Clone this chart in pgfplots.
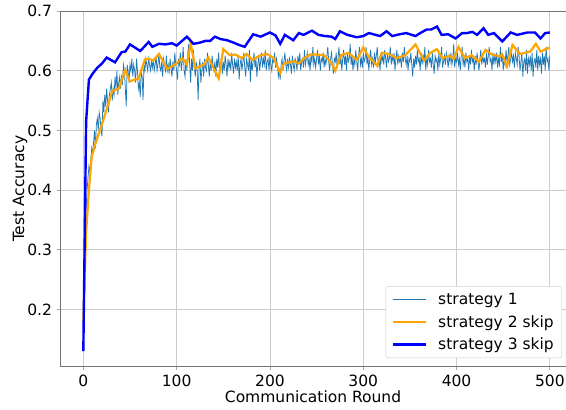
\documentclass[border=0pt]{standalone}
\usepackage{fontspec}
\setmainfont{DejaVu Sans}
\usepackage{pgfplots}
\pgfplotsset{compat=1.18}
\definecolor{mplblue}{HTML}{1F77B4}
\definecolor{mplorange}{HTML}{FFA500}
\definecolor{pureblue}{HTML}{0000FF}
\newcommand{\fs}{\fontsize{15.5}{18}\selectfont}
\begin{document}
\begin{tikzpicture}
\begin{axis}[
  name=ax,
  scale only axis,
  width=506pt, height=355.7pt,
  xmin=-25, xmax=517.3, ymin=0.104, ymax=0.7,
  axis x line*=box, axis y line*=left,
  xtick={0,100,200,300,400,500},
  ytick={0.2,0.3,0.4,0.5,0.6,0.7},
  yticklabel style={/pgf/number format/fixed, /pgf/number format/precision=1, /pgf/number format/fixed zerofill},
  xtick pos=left, ytick pos=left,
  tick align=outside, major tick length=3.5pt,
  tick style={black!35, line width=0.8pt},
  axis line style={black!55, line width=0.8pt},
  grid=major,
  major grid style={black!20, line width=0.8pt},
  /pgf/number format/assume math mode=true,
  tick label style={font=\fs},
  xticklabel style={yshift=-1pt},
  yticklabel style={xshift=-1pt},
  every axis x label/.style={at={(axis description cs:0.5,0)}, yshift=-30.5pt, anchor=center, font=\fs},
  every axis y label/.style={at={(axis description cs:0,0.5)}, xshift=-40pt, rotate=90, anchor=center, font=\fs},
  xlabel={Communication Round},
  ylabel={Test Accuracy},
  legend style={at={(1,0)}, xshift=-4pt, yshift=8.7pt, anchor=south east, draw=black!20, rounded corners=2pt, font=\fs, row sep=5.5pt, inner xsep=6pt, inner ysep=4.5pt, /tikz/every odd column/.append style={column sep=9pt}},
  legend cell align=left,
  legend image code/.code={\draw[#1] (0pt,0pt) -- (33pt,0pt);},
]
\addplot[mplblue, line width=0.75pt] coordinates {
(0,0.20) (1,0.28) (2,0.33) (3,0.37) (4,0.40) (5,0.42) (6,0.44) (7,0.43) (8,0.45) (9,0.47)
(10,0.46) (11,0.48) (12,0.50) (13,0.47) (14,0.51) (15,0.52) (16,0.50) (17,0.53) (18,0.52) (19,0.50)
(20,0.49) (21,0.55) (22,0.53) (23,0.56) (24,0.54) (25,0.57) (26,0.55) (27,0.53) (28,0.56) (29,0.57)
(30,0.58) (31,0.55) (32,0.57) (33,0.56) (34,0.59) (35,0.57) (36,0.60) (37,0.56) (38,0.58) (39,0.59)
(40,0.57) (41,0.59) (42,0.58) (43,0.61) (44,0.60) (45,0.57) (46,0.54) (47,0.61) (48,0.60) (49,0.58)
(50,0.61) (51,0.60) (52,0.62) (53,0.59) (54,0.61) (55,0.60) (56,0.58) (57,0.62) (58,0.60) (59,0.57)
(60,0.58) (61,0.556) (62,0.60) (63,0.59) (64,0.551) (65,0.61) (66,0.60) (67,0.62) (68,0.61) (69,0.60)
(70,0.62) (71,0.61) (72,0.60) (73,0.615) (74,0.605) (75,0.62) (76,0.60) (77,0.61) (78,0.625) (79,0.60)
(80,0.61) (81,0.63) (82,0.605) (83,0.60) (84,0.615) (85,0.59) (86,0.62) (87,0.61) (88,0.60) (89,0.625)
(90,0.60) (91,0.61) (92,0.595) (93,0.62) (94,0.605) (95,0.59) (96,0.615) (97,0.60) (98,0.63) (99,0.61)
(100,0.60) (101,0.585) (102,0.62) (103,0.61) (104,0.63) (105,0.60) (106,0.615) (107,0.64) (108,0.60) (109,0.59)
(110,0.62) (111,0.60) (112,0.63) (113,0.645) (114,0.61) (115,0.58) (116,0.62) (117,0.60) (118,0.635) (119,0.605)
(120,0.59) (121,0.615) (122,0.60) (123,0.551) (124,0.605) (125,0.62) (126,0.58) (127,0.60) (128,0.615) (129,0.59)
(130,0.62) (131,0.605) (132,0.60) (133,0.63) (134,0.61) (135,0.59) (136,0.615) (137,0.60) (138,0.625) (139,0.61)
(140,0.60) (141,0.615) (142,0.59) (143,0.62) (144,0.605) (145,0.63) (146,0.60) (147,0.61) (148,0.62) (149,0.595)
(150,0.615) (151,0.60) (152,0.625) (153,0.61) (154,0.59) (155,0.62) (156,0.605) (157,0.615) (158,0.60) (159,0.63)
(160,0.61) (161,0.595) (162,0.62) (163,0.605) (164,0.615) (165,0.60) (166,0.625) (167,0.585) (168,0.61) (169,0.62)
(170,0.60) (171,0.615) (172,0.63) (173,0.605) (174,0.59) (175,0.62) (176,0.61) (177,0.60) (178,0.635) (179,0.581)
(180,0.62) (181,0.60) (182,0.615) (183,0.63) (184,0.605) (185,0.62) (186,0.59) (187,0.61) (188,0.625) (189,0.60)
(190,0.615) (191,0.63) (192,0.605) (193,0.62) (194,0.61) (195,0.635) (196,0.60) (197,0.615) (198,0.62) (199,0.60)
(200,0.625) (201,0.61) (202,0.60) (203,0.62) (204,0.615) (205,0.63) (206,0.605) (207,0.62) (208,0.61) (209,0.59)
(210,0.60) (211,0.585) (212,0.61) (213,0.62) (214,0.60) (215,0.615) (216,0.63) (217,0.61) (218,0.60) (219,0.62)
(220,0.605) (221,0.62) (222,0.61) (223,0.595) (224,0.625) (225,0.61) (226,0.60) (227,0.62) (228,0.615) (229,0.60)
(230,0.625) (231,0.61) (232,0.63) (233,0.60) (234,0.615) (235,0.62) (236,0.605) (237,0.635) (238,0.61) (239,0.62)
(240,0.63) (241,0.61) (242,0.62) (243,0.60) (244,0.625) (245,0.615) (246,0.64) (247,0.61) (248,0.62) (249,0.605)
(250,0.62) (251,0.635) (252,0.61) (253,0.625) (254,0.60) (255,0.62) (256,0.615) (257,0.63) (258,0.605) (259,0.62)
(260,0.61) (261,0.625) (262,0.64) (263,0.615) (264,0.60) (265,0.62) (266,0.63) (267,0.61) (268,0.595) (269,0.62)
(270,0.615) (271,0.63) (272,0.605) (273,0.62) (274,0.64) (275,0.61) (276,0.625) (277,0.60) (278,0.62) (279,0.635)
(280,0.61) (281,0.625) (282,0.60) (283,0.63) (284,0.615) (285,0.62) (286,0.645) (287,0.61) (288,0.625) (289,0.60)
(290,0.62) (291,0.61) (292,0.635) (293,0.615) (294,0.60) (295,0.625) (296,0.64) (297,0.61) (298,0.62) (299,0.605)
(300,0.63) (301,0.615) (302,0.62) (303,0.64) (304,0.61) (305,0.625) (306,0.60) (307,0.62) (308,0.635) (309,0.61)
(310,0.62) (311,0.605) (312,0.63) (313,0.615) (314,0.625) (315,0.64) (316,0.61) (317,0.62) (318,0.60) (319,0.63)
(320,0.615) (321,0.625) (322,0.61) (323,0.635) (324,0.62) (325,0.605) (326,0.63) (327,0.615) (328,0.62) (329,0.64)
(330,0.61) (331,0.625) (332,0.615) (333,0.63) (334,0.60) (335,0.62) (336,0.635) (337,0.61) (338,0.625) (339,0.615)
(340,0.62) (341,0.605) (342,0.63) (343,0.615) (344,0.64) (345,0.62) (346,0.61) (347,0.625) (348,0.60) (349,0.62)
(350,0.615) (351,0.63) (352,0.61) (353,0.59) (354,0.62) (355,0.605) (356,0.625) (357,0.61) (358,0.635) (359,0.615)
(360,0.62) (361,0.60) (362,0.63) (363,0.61) (364,0.625) (365,0.615) (366,0.64) (367,0.60) (368,0.62) (369,0.61)
(370,0.635) (371,0.615) (372,0.62) (373,0.605) (374,0.63) (375,0.61) (376,0.595) (377,0.625) (378,0.615) (379,0.62)
(380,0.60) (381,0.63) (382,0.61) (383,0.62) (384,0.64) (385,0.605) (386,0.615) (387,0.625) (388,0.61) (389,0.63)
(390,0.62) (391,0.605) (392,0.625) (393,0.615) (394,0.63) (395,0.61) (396,0.62) (397,0.645) (398,0.605) (399,0.62)
(400,0.615) (401,0.63) (402,0.61) (403,0.62) (404,0.60) (405,0.625) (406,0.64) (407,0.61) (408,0.62) (409,0.605)
(410,0.63) (411,0.615) (412,0.62) (413,0.60) (414,0.625) (415,0.61) (416,0.635) (417,0.615) (418,0.62) (419,0.60)
(420,0.625) (421,0.61) (422,0.63) (423,0.615) (424,0.60) (425,0.62) (426,0.635) (427,0.61) (428,0.625) (429,0.615)
(430,0.62) (431,0.605) (432,0.63) (433,0.61) (434,0.625) (435,0.64) (436,0.615) (437,0.62) (438,0.60) (439,0.63)
(440,0.61) (441,0.625) (442,0.615) (443,0.63) (444,0.605) (445,0.62) (446,0.61) (447,0.64) (448,0.615) (449,0.63)
(450,0.60) (451,0.62) (452,0.61) (453,0.635) (454,0.615) (455,0.625) (456,0.64) (457,0.61) (458,0.62) (459,0.63)
(460,0.615) (461,0.625) (462,0.605) (463,0.63) (464,0.62) (465,0.61) (466,0.64) (467,0.625) (468,0.60) (469,0.615)
(470,0.63) (471,0.59) (472,0.615) (473,0.62) (474,0.60) (475,0.635) (476,0.595) (477,0.62) (478,0.61) (479,0.625)
(480,0.60) (481,0.63) (482,0.59) (483,0.615) (484,0.62) (485,0.605) (486,0.635) (487,0.60) (488,0.625) (489,0.61)
(490,0.62) (491,0.595) (492,0.63) (493,0.61) (494,0.625) (495,0.60) (496,0.64) (497,0.615) (498,0.62) (499,0.60)
(500,0.625)
};
\addlegendentry{strategy 1}
\addplot[mplorange, line width=2.2pt] coordinates {
(0,0.18) (3,0.33) (6,0.40) (9,0.456) (13,0.478) (22,0.52) (31,0.566) (38,0.57) (45,0.601) (50,0.582)
(55,0.585) (59,0.586) (66,0.619) (70,0.62) (75,0.617) (81,0.628) (90,0.603) (99,0.611) (106,0.621) (111,0.610)
(115,0.646) (120,0.604) (129,0.610) (134,0.622) (145,0.587) (150,0.636) (157,0.626) (163,0.627) (170,0.621) (175,0.628)
(181,0.618) (190,0.626) (197,0.628) (204,0.621) (211,0.596) (215,0.612) (221,0.614) (226,0.616) (231,0.612) (236,0.620)
(243,0.627) (250,0.627) (258,0.626) (265,0.615) (270,0.600) (276,0.626) (284,0.630) (293,0.618) (300,0.639) (306,0.623)
(315,0.608) (320,0.630) (327,0.628) (336,0.621) (345,0.626) (356,0.644) (365,0.617) (372,0.630) (379,0.636) (385,0.621)
(392,0.625) (397,0.620) (402,0.640) (409,0.621) (416,0.626) (424,0.615) (431,0.635) (438,0.627) (447,0.624) (449,0.627)
(454,0.607) (460,0.643) (468,0.628) (479,0.632) (485,0.645) (490,0.632) (500,0.639)
};
\addlegendentry{strategy 2 skip}
\addplot[pureblue, line width=2.4pt] coordinates {
(0,0.13) (3,0.515) (6,0.585) (10,0.595) (15,0.605) (20,0.612) (25,0.622) (34,0.614) (41,0.631) (45,0.632)
(50,0.644) (56,0.638) (61,0.633) (70,0.648) (74,0.640) (81,0.645) (88,0.644) (95,0.646) (100,0.642) (111,0.657)
(118,0.645) (125,0.647) (131,0.650) (136,0.650) (141,0.657) (147,0.653) (154,0.651) (161,0.647) (167,0.643) (173,0.640)
(182,0.661) (190,0.657) (200,0.664) (206,0.659) (211,0.645) (216,0.660) (225,0.651) (231,0.663) (236,0.660) (245,0.667)
(252,0.660) (259,0.658) (266,0.657) (270,0.653) (275,0.666) (283,0.660) (293,0.656) (300,0.658) (306,0.663) (318,0.658)
(325,0.666) (331,0.658) (339,0.661) (346,0.663) (356,0.658) (361,0.663) (368,0.669) (373,0.669) (379,0.674) (384,0.660)
(391,0.661) (399,0.654) (406,0.663) (411,0.663) (417,0.665) (422,0.660) (429,0.671) (434,0.660) (440,0.663) (449,0.649)
(458,0.664) (465,0.660) (476,0.664) (484,0.664) (490,0.654) (495,0.663) (500,0.664)
};
\addlegendentry{strategy 3 skip}
\end{axis}
\pgfresetboundingbox
\useasboundingbox ([xshift=-60pt,yshift=-42.3pt]ax.south west) rectangle ([yshift=11pt]ax.north east);
\end{tikzpicture}
\end{document}
